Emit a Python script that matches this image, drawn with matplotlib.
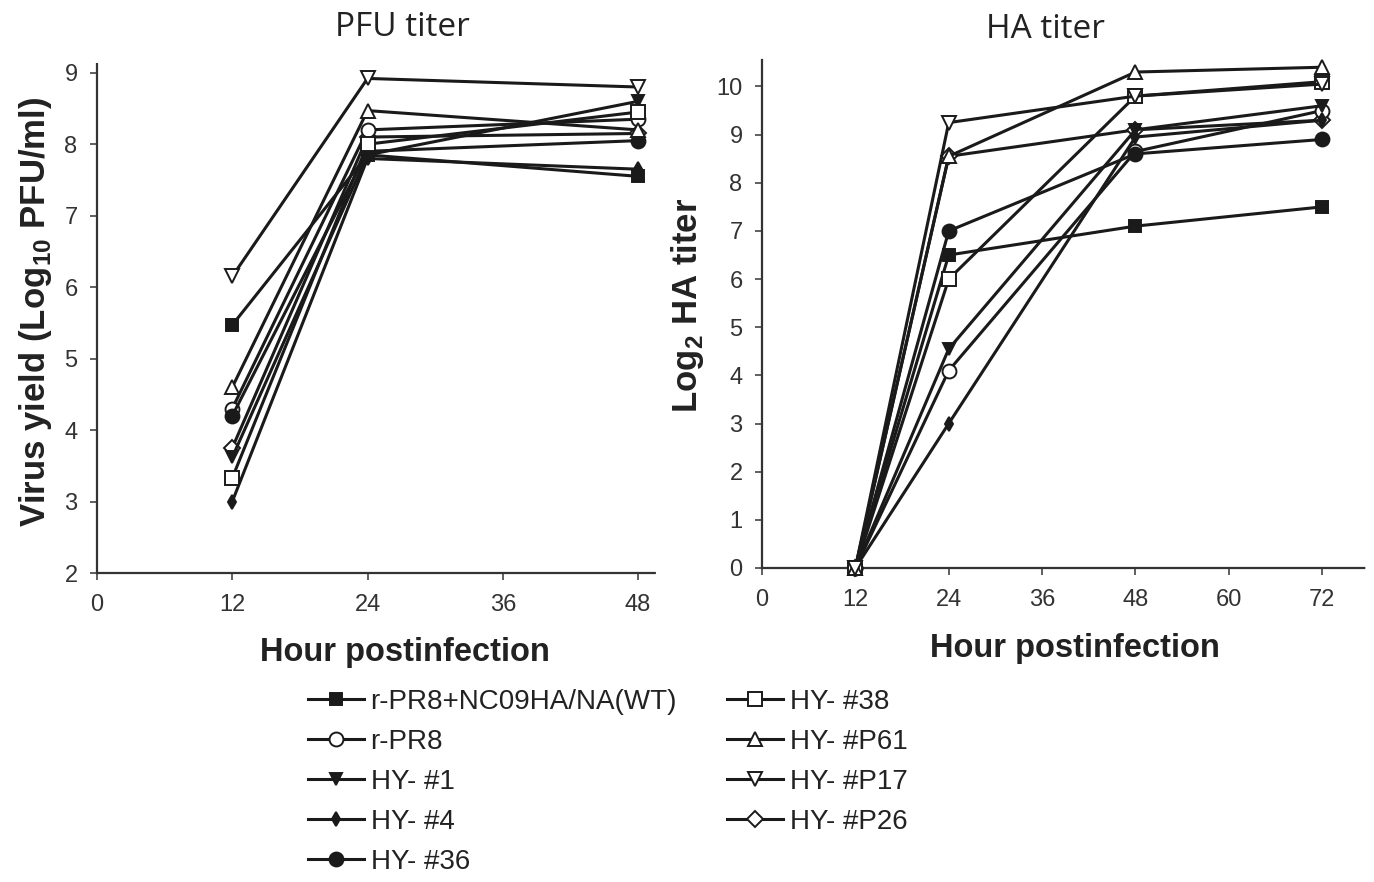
import matplotlib

matplotlib.use("Agg")
import matplotlib.pyplot as plt

# sampling times (hours postinfection)
pfu_hours = [12, 24, 48]
ha_hours = [12, 24, 48, 72]

labels = [
    "r-PR8+NC09HA/NA(WT)",
    "r-PR8",
    "HY- #1",
    "HY- #4",
    "HY- #36",
    "HY- #38",
    "HY- #P61",
    "HY- #P17",
    "HY- #P26",
]

# PFU titer, log10 PFU/ml
pfu_wt = [5.47, 7.85, 7.55]
pfu_rpr8 = [4.3, 8.2, 8.35]
pfu_hy1 = [3.62, 7.85, 8.6]
pfu_hy4 = [3.0, 7.8, 7.65]
pfu_hy36 = [4.2, 7.9, 8.05]
pfu_hy38 = [3.33, 8.0, 8.45]
pfu_p61 = [4.6, 8.47, 8.2]
pfu_p17 = [6.15, 8.92, 8.8]
pfu_p26 = [3.75, 8.1, 8.15]

# HA titer, log2
ha_wt = [0, 6.5, 7.1, 7.5]
ha_rpr8 = [0, 4.1, 8.65, 9.5]
ha_hy1 = [0, 4.55, 9.1, 9.6]
ha_hy4 = [0, 3.0, 8.95, 9.3]
ha_hy36 = [0, 7.0, 8.6, 8.9]
ha_hy38 = [0, 6.0, 9.8, 10.1]
ha_p61 = [0, 8.55, 10.3, 10.4]
ha_p17 = [0, 9.25, 9.8, 10.05]
ha_p26 = [0, 8.55, 9.1, 9.3]

pfu_series = [pfu_wt, pfu_rpr8, pfu_hy1, pfu_hy4, pfu_hy36, pfu_hy38, pfu_p61, pfu_p17, pfu_p26]
ha_series = [ha_wt, ha_rpr8, ha_hy1, ha_hy4, ha_hy36, ha_hy38, ha_p61, ha_p17, ha_p26]

INK = "#1a1a1a"
styles = [
    dict(marker="s", mfc=INK, ms=9, zorder=3),
    dict(marker="o", mfc="white", ms=10, zorder=3),
    dict(marker="v", mfc=INK, ms=9, zorder=3),
    dict(marker="d", mfc=INK, ms=7, zorder=3),
    dict(marker="o", mfc=INK, ms=10, zorder=3),
    dict(marker="s", mfc="white", ms=10, zorder=3),
    dict(marker="^", mfc="white", ms=10, zorder=3),
    dict(marker="v", mfc="white", ms=10, zorder=3),
    dict(marker="D", mfc="white", ms=8, zorder=2),
]

plt.rcParams["font.family"] = ["Liberation Sans", "DejaVu Sans"]
plt.rcParams["mathtext.fontset"] = "custom"
plt.rcParams["mathtext.rm"] = "Liberation Sans"
plt.rcParams["mathtext.bf"] = "Liberation Sans:bold"

fig = plt.figure(figsize=(13.74, 8.82), dpi=100)
ax1 = fig.add_axes([97 / 1374, 1 - 573 / 882, 558 / 1374, 511 / 882])
ax2 = fig.add_axes([762 / 1374, 1 - 568 / 882, 603 / 1374, 508 / 882])


def style_axes(ax):
    for side in ("top", "right"):
        ax.spines[side].set_visible(False)
    for side in ("left", "bottom"):
        ax.spines[side].set_linestyle((0, (1, 1)))
        ax.spines[side].set_linewidth(1.6)
        ax.spines[side].set_color("#333333")
    ax.tick_params(direction="out", length=5, width=1.2, color="#444444",
                   labelsize=17, labelcolor="#333333")
    ax.tick_params(axis="y", pad=9)
    ax.tick_params(axis="x", pad=10)


handles = []
for values, style, label in zip(pfu_series, styles, labels):
    (h,) = ax1.plot(pfu_hours, values, color=INK, lw=2.2, mec=INK, mew=1.4,
                    label=label, clip_on=False, **style)
    handles.append(h)
for values, style in zip(ha_series, styles):
    ax2.plot(ha_hours, values, color=INK, lw=2.2, mec=INK, mew=1.4,
             clip_on=False, **style)

ax1.set_xlim(0, 49.5)
ax1.set_ylim(2, 9.15)
ax1.set_xticks([0, 12, 24, 36, 48])
ax1.set_yticks(range(2, 10))
style_axes(ax1)

ax2.set_xlim(0, 77.5)
ax2.set_ylim(0, 10.55)
ax2.set_xticks([0, 12, 24, 36, 48, 60, 72])
ax2.set_yticks(range(0, 11))
style_axes(ax2)

title_font = ["Open Sans", "DejaVu Sans"]
fig.text(402 / 1374, 1 - 27 / 882, "PFU titer", ha="center", va="center",
         fontsize=24, family=title_font, color="#222222")
fig.text(1045 / 1374, 1 - 30 / 882, "HA titer", ha="center", va="center",
         fontsize=24, family=title_font, color="#222222")

fig.text(405 / 1374, 1 - 653 / 882, "Hour postinfection", ha="center", va="center",
         fontsize=23.5, fontweight="bold", color="#222222")
fig.text(1075 / 1374, 1 - 648 / 882, "Hour postinfection", ha="center", va="center",
         fontsize=23.5, fontweight="bold", color="#222222")
fig.text(36 / 1374, 1 - 312 / 882, r"Virus yield (Log$_\mathbf{10}$ PFU/ml)",
         rotation=90, ha="center", va="center", fontsize=25, fontweight="bold",
         color="#222222")
fig.text(688 / 1374, 1 - 305 / 882, r"Log$_\mathbf{2}$ HA titer",
         rotation=90, ha="center", va="center", fontsize=25, fontweight="bold",
         color="#222222")

fig.legend(handles=handles, ncol=2, loc="upper left",
           bbox_to_anchor=(297 / 1374, 1 - 678 / 882), frameon=False,
           fontsize=20, handlelength=2.0, handletextpad=0.25, labelspacing=0.5,
           columnspacing=1.8, borderaxespad=0, labelcolor="#222222")

fig.savefig("out.png", dpi=100)
